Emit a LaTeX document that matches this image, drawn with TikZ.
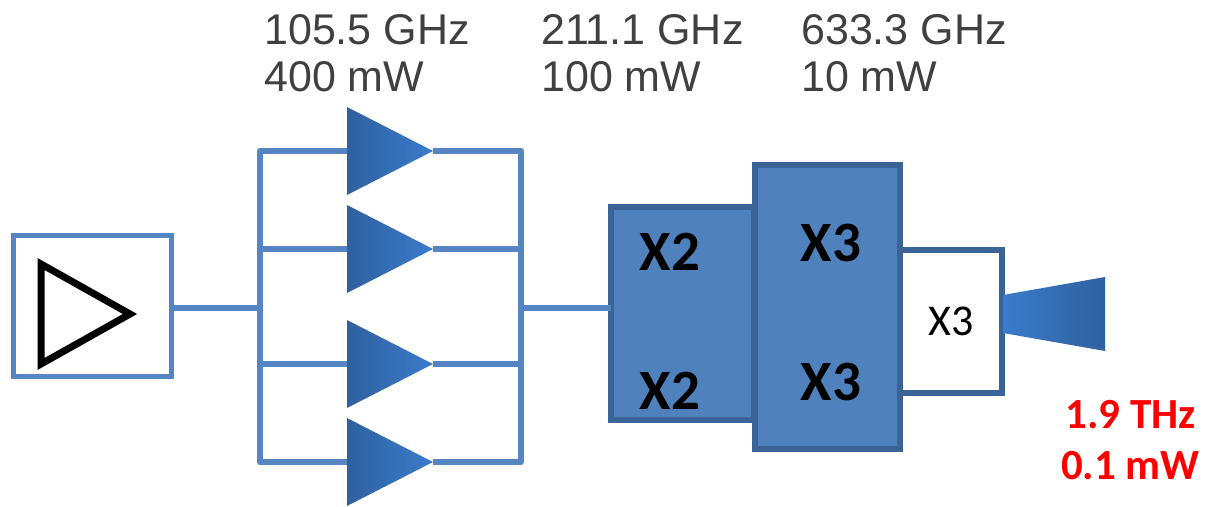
\documentclass[tikz,border=0pt]{standalone}
\usepackage{fontspec}
\setmainfont{Liberation Sans}
\newfontfamily\carl{Carlito}
\definecolor{linkb}{HTML}{5585C2}
\definecolor{fillb}{HTML}{4F81BD}
\definecolor{edgeb}{HTML}{3A6496}
\definecolor{gdark}{HTML}{2F619F}
\definecolor{glight}{HTML}{3A7BCB}
\definecolor{txtg}{HTML}{404040}
\tikzset{
  x=1pt,y=-1pt,
  wire/.style={draw=linkb,line width=6pt,line join=round},
  lightbox/.style={draw=linkb,line width=5.5pt,fill=white,inner sep=0,outer sep=0},
  darkbox/.style={draw=edgeb,line width=6pt,fill=fillb,inner sep=0,outer sep=0},
  whitebox/.style={draw=edgeb,line width=6pt,fill=white,inner sep=0,outer sep=0},
  freq/.style={text=txtg,font=\fontsize{43}{47}\selectfont,align=left,anchor=west,inner sep=0},
  xbig/.style={font=\carl\bfseries\fontsize{57}{57}\selectfont,text=black,inner sep=0},
  xsmall/.style={font=\carl\fontsize{44}{44}\selectfont,text=black,inner sep=0},
  red lab/.style={font=\carl\bfseries\fontsize{43}{43}\selectfont,text=red,inner sep=0,anchor=east},
  amp/.style={left color=gdark,right color=glight,draw=none}
}
\begin{document}
\begin{tikzpicture}
\useasboundingbox (0,0) rectangle (1206,506);
% coordinates
\coordinate (t1) at (433,151); \coordinate (t2) at (433,249);
\coordinate (t3) at (433,364); \coordinate (t4) at (433,462);
\coordinate (l1) at (347,151); \coordinate (l2) at (347,249);
\coordinate (l3) at (347,364); \coordinate (l4) at (347,462);
\coordinate (inbus) at (260,308); \coordinate (outbus) at (521,308);
\coordinate (bl1) at (260,151); \coordinate (bl4) at (260,462);
\coordinate (bl2) at (260,249); \coordinate (bl3) at (260,364);
\coordinate (br1) at (521,151); \coordinate (br4) at (521,462);
\coordinate (br2) at (521,249); \coordinate (br3) at (521,364);
% boxes
\node[lightbox,minimum width=158pt,minimum height=141pt] (src) at (92.5,306) {};
\node[darkbox,minimum width=143pt,minimum height=213pt] (dbl) at (682,313.5) {};
\node[whitebox,minimum width=102pt,minimum height=143pt] (trp) at (951,321) {};
\node[darkbox,minimum width=145pt,minimum height=284pt] (tri) at (827,307) {};
% wires
\draw[wire] (src.east |- inbus) -- (inbus);
\draw[wire] (l1) -- (bl1) -- (bl4) -- (l4);
\draw[wire] (bl2) -- (l2);
\draw[wire] (bl3) -- (l3);
\draw[wire] (t1) -- (br1) -- (br4) -- (t4);
\draw[wire] (t2) -- (br2);
\draw[wire] (t3) -- (br3);
\draw[wire] (outbus) -- (dbl.west |- outbus);
% amps
\foreach \n/\y in {a1/151,a2/249,a3/364,a4/462}{
  \path[amp] (347,\y-44) -- (433,\y) -- (347,\y+44) -- cycle;
}
\draw[black,line width=7pt,miter limit=10,fill=white] (41,264) -- (130,314) -- (41,364) -- cycle;
% horn
\path[left color=glight,right color=gdark] (1003,295) -- (1105,277) -- (1105,351) -- (1003,333) -- cycle;
% text
\node[freq] (f1) at (264,53) {105.5 GHz\\400 mW};
\node[freq] (f2) at (541,53) {211.1 GHz\\100 mW};
\node[freq] (f3) at (801,53) {633.3 GHz\\10 mW};
\node[xbig] (x21) at (670,252) {X2};
\node[xbig] (x22) at (670,391) {X2};
\node[xbig] (x31) at (831,243) {X3};
\node[xbig] (x32) at (831,382) {X3};
\node[xsmall] (x33) at (951,321) {X3};
\node[red lab] (r1) at (1196,415) {1.9 THz};
\node[red lab] (r2) at (1200,466) {0.1 mW};
\end{tikzpicture}
\end{document}
